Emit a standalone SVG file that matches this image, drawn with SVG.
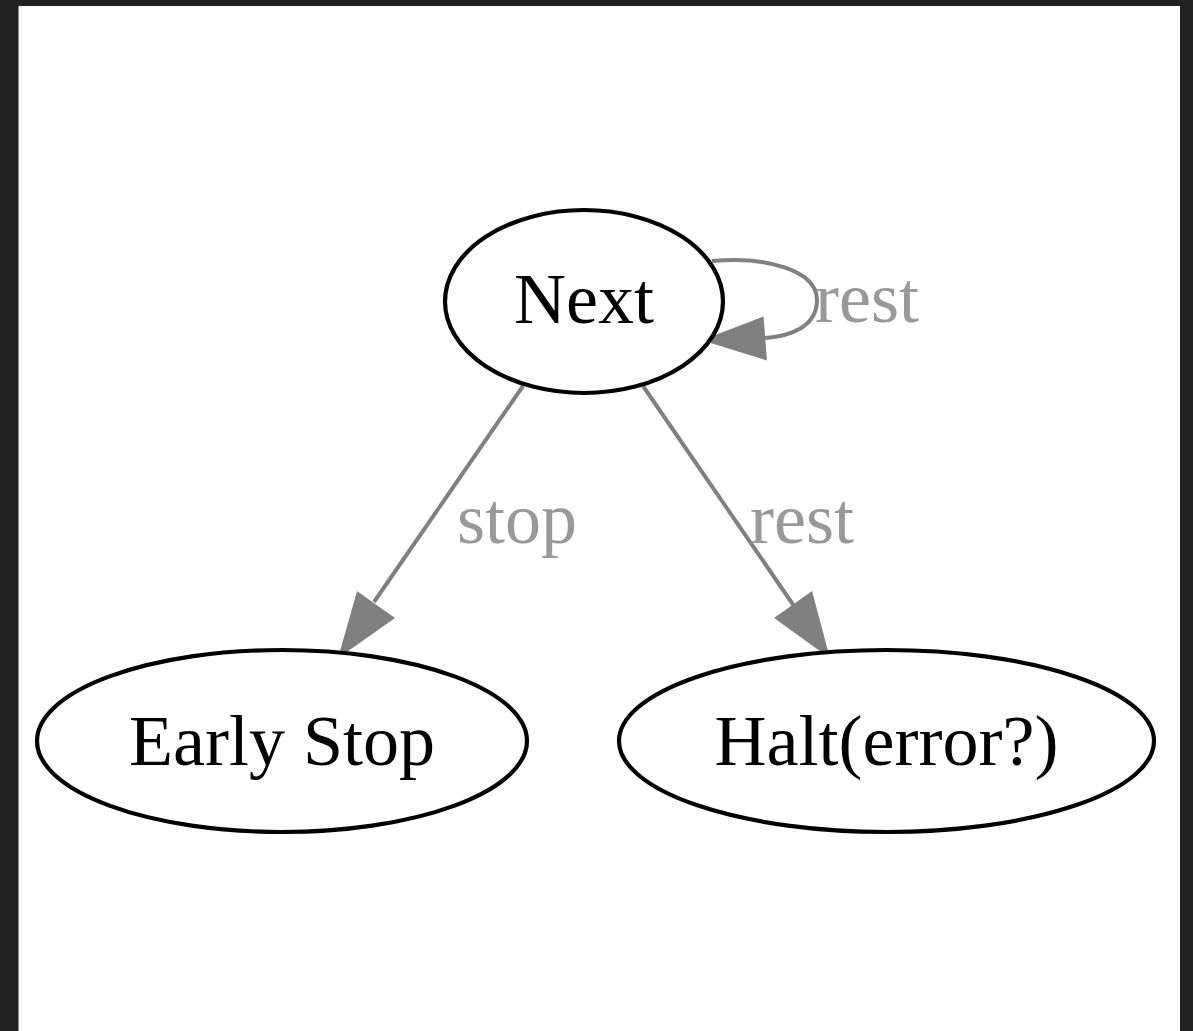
<svg xmlns="http://www.w3.org/2000/svg" width="1193" height="1031" viewBox="0 0 1193 1031">
<style>
.node ellipse{fill:#fff;stroke:#000;stroke-width:4.2}
.node text{font-family:"Liberation Serif","Times New Roman",serif;font-size:72px;fill:#000;text-anchor:middle}
.edge path{fill:none;stroke:#808080;stroke-width:4}
.edge polygon{fill:#808080;stroke:#808080;stroke-width:3.5}
.lbl{font-family:"Liberation Serif","Times New Roman",serif;font-size:72px;fill:#999}
</style>
<rect x="0" y="0" width="1193" height="1031" fill="#212121"/>
<rect x="18" y="6" width="1162" height="1025" fill="#fff"/>
<line x1="18.5" y1="6" x2="18.5" y2="1031" stroke="#888" stroke-width="1"/>
<g id="connectors">
<g class="edge" id="e-next-next">
<path d="M712,261 C765,256 817,270 817,300 C817,326 792,336 765,338"/>
<polygon points="762,319 765,358 707,340"/>
<text class="lbl" x="815" y="322">rest</text>
</g>
<g class="edge" id="e-next-early">
<path d="M523,386 L374,602"/>
<polygon points="358,594 392,618 341,654"/>
<text class="lbl" x="457" y="543">stop</text>
</g>
<g class="edge" id="e-next-halt">
<path d="M643,386 L794,606"/>
<polygon points="811,594 777,618 827,654"/>
<text class="lbl" x="750" y="543">rest</text>
</g>
</g>
<g class="node" id="n-next">
<ellipse cx="584" cy="301.5" rx="139" ry="91.5"/>
<text x="584" y="323">Next</text>
</g>
<g class="node" id="n-early">
<ellipse cx="282" cy="741" rx="245" ry="91"/>
<text x="282" y="765">Early Stop</text>
</g>
<g class="node" id="n-halt">
<ellipse cx="886.5" cy="741" rx="267.5" ry="91"/>
<text x="886.5" y="765">Halt(error?)</text>
</g>
</svg>
